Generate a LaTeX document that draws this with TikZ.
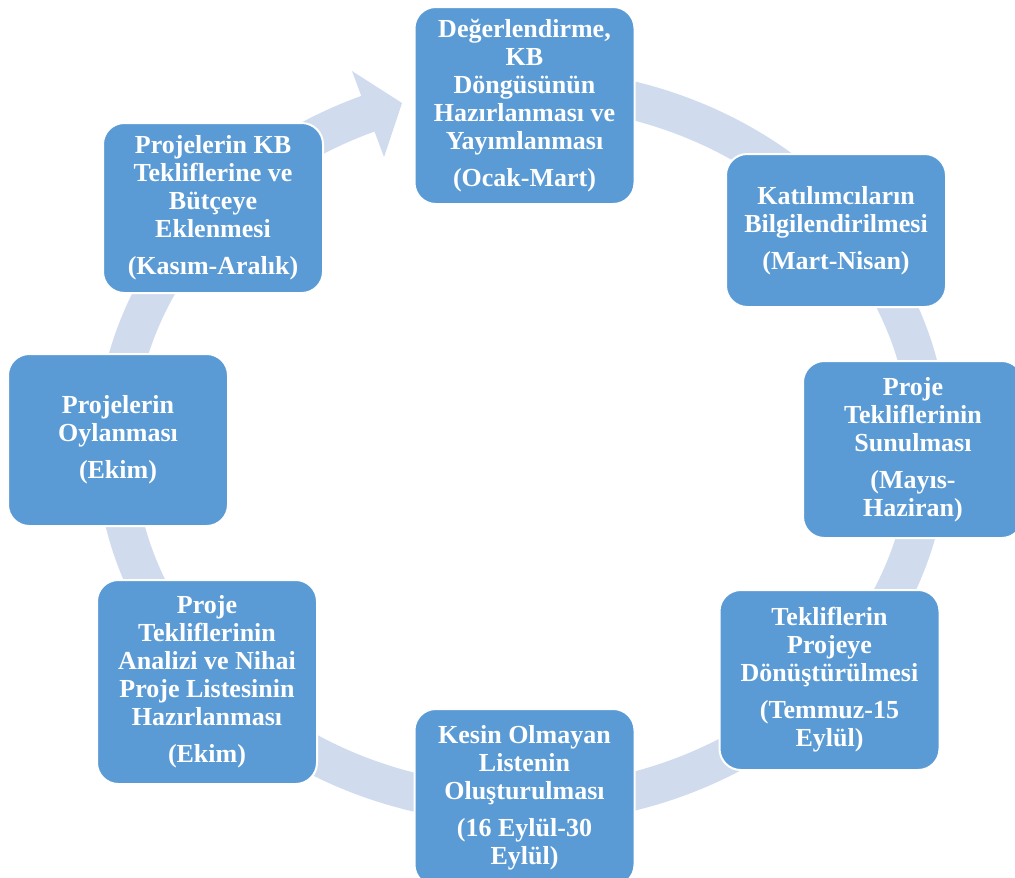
\documentclass[tikz,border=0pt]{standalone}
\usepackage{fontspec}
\setmainfont{Liberation Serif}
\definecolor{boxblue}{RGB}{91,155,213}
\definecolor{ringblue}{RGB}{208,220,238}
\tikzset{
  stage/.style={rectangle, rounded corners=16pt, fill=boxblue, draw=white,
    line width=1.5pt, text=white, align=center, inner sep=0pt,
    minimum width=165pt,
    font=\bfseries\fontsize{19.5}{21}\selectfont},
  ring/.style={draw=ringblue, line width=28.5pt, line cap=butt}
}
\begin{document}
\begin{tikzpicture}[x=0.75pt,y=-0.75pt]
\useasboundingbox (0,0) rectangle (1015,878);
\fill[white] (0,0) rectangle (1015,878);
\clip (0,0) rectangle (1015,878);

% circular arrow running clockwise behind the stages
\draw[ring] (522,446) ++(-80:407 and 359)
  arc[start angle=-80, end angle=249, x radius=407, y radius=359];
\fill[ringblue] (352,71) -- (402,103) -- (384,157) -- cycle;

% stages of the cycle
\node[stage, minimum height=147.75pt] (s1) at (524.5,105.5)
  {Değerlendirme,\\KB\\Döngüsünün\\Hazırlanması ve\\Yayımlanması\\[6.75pt](Ocak-Mart)};
\node[stage, minimum height=114.75pt] (s2) at (836,230.5)
  {Katılımcıların\\Bilgilendirilmesi\\[6.75pt](Mart-Nisan)};
\node[stage, minimum height=132.75pt] (s3) at (913,449.5)
  {Proje\\Tekliflerinin\\Sunulması\\[6.75pt](Mayıs-\\Haziran)};
\node[stage, minimum height=135pt] (s4) at (829.5,680)
  {Tekliflerin\\Projeye\\Dönüştürülmesi\\[6.75pt](Temmuz-15\\Eylül)};
\node[stage, minimum height=132.75pt] (s5) at (524.5,797.5)
  {Kesin Olmayan\\Listenin\\Oluşturulması\\[6.75pt](16 Eylül-30\\Eylül)};
\node[stage, minimum height=153pt] (s6) at (207,682)
  {Proje\\Tekliflerinin\\Analizi ve Nihai\\Proje Listesinin\\Hazırlanması\\[6.75pt](Ekim)};
\node[stage, minimum height=129pt] (s7) at (118,440)
  {Projelerin\\Oylanması\\[6.75pt](Ekim)};
\node[stage, minimum height=127.5pt] (s8) at (213,208)
  {Projelerin KB\\Tekliflerine ve\\Bütçeye\\Eklenmesi\\[6.75pt](Kasım-Aralık)};
\end{tikzpicture}
\end{document}
